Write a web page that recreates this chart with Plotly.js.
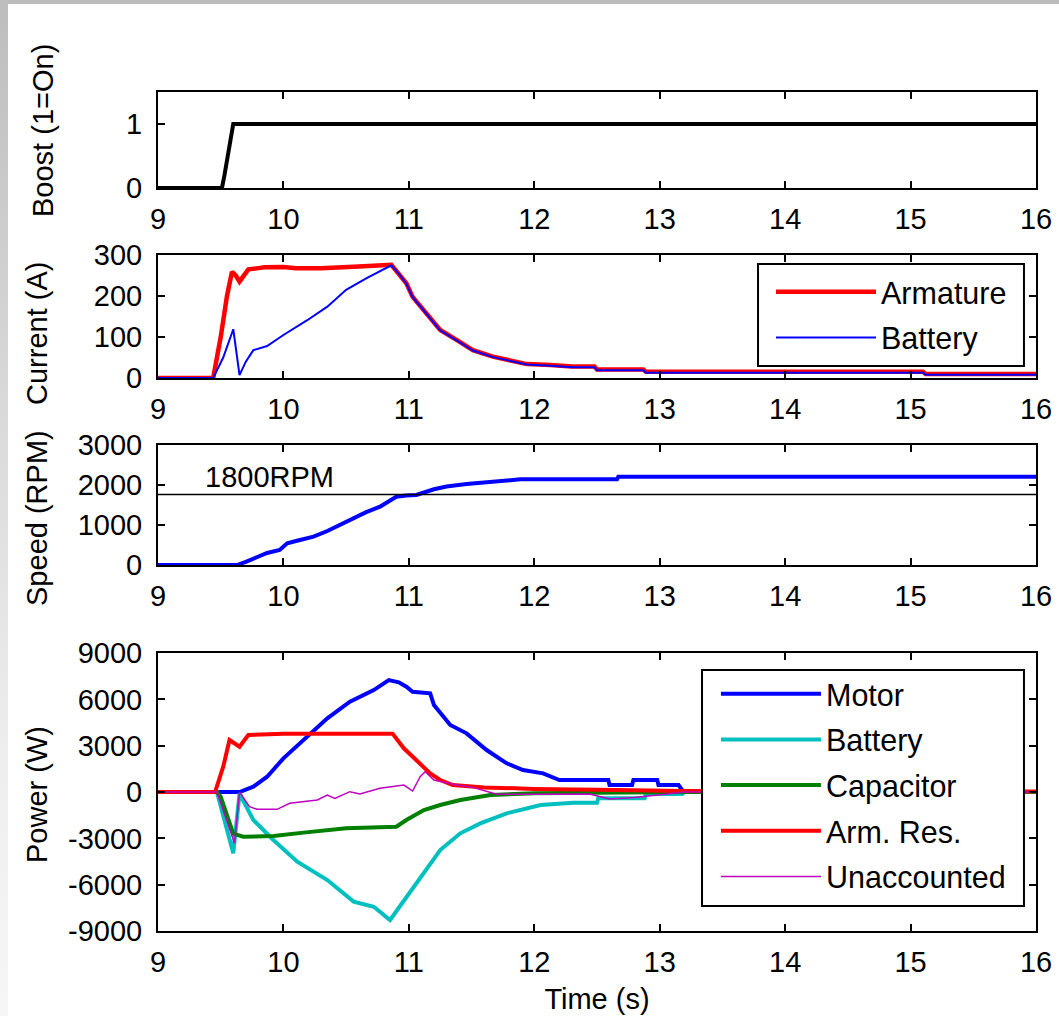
<!DOCTYPE html>
<html>
<head>
<meta charset="utf-8">
<script src="https://cdn.plot.ly/plotly-3.0.1.min.js"></script>
<style>
  html, body { margin: 0; padding: 0; }
  #wrap { position: relative; width: 1059px; height: 1016px; overflow: hidden;
          background: linear-gradient(to bottom, #bdbdbd 0%, #d9d9d9 40%, #eeeeee 75%, #f6f6f6 100%); }
  #chart { position: absolute; left: 8px; top: 4px; width: 1051px; height: 1012px; background: #fff; }
</style>
</head>
<body>
<div id="wrap"><div id="chart"></div></div>
<script>
// ---------------- data ----------------
const boostT = [9, 9.51, 9.53, 9.55, 9.57, 9.59, 9.6, 16];
const boostV = [0, 0, 0.2, 0.45, 0.6, 0.85, 1, 1];

const armCurT = [9, 9.44, 9.5, 9.55, 9.59, 9.62, 9.65, 9.69, 9.72, 9.8, 9.85, 10.0, 10.1, 10.3, 10.55, 10.6, 10.86, 10.92, 10.98, 11.03, 11.14, 11.25, 11.38, 11.51, 11.67, 11.78, 11.94, 12.13, 12.3, 12.48, 12.5, 12.87, 12.89, 15.1, 15.12, 16];
const armCurV = [0, 0, 100, 200, 259, 250, 235, 255, 265, 268, 270, 271, 268, 268, 270, 272, 276, 255, 231, 198, 158, 117, 93, 68, 52, 44, 34, 32, 28, 28, 21, 21, 15, 15, 10, 10];

const batCurT = [9, 9.44, 9.52, 9.6, 9.65, 9.7, 9.76, 9.87, 10.0, 10.19, 10.35, 10.5, 10.66, 10.86, 10.92, 10.98, 11.03, 11.14, 11.25, 11.38, 11.51, 11.67, 11.78, 11.94, 12.13, 12.3, 12.48, 12.5, 12.87, 12.89, 15.1, 15.12, 16];
const batCurV = [0, 0, 50, 119, 7, 40, 68, 78, 105, 141, 174, 215, 243, 275, 254, 230, 197, 157, 116, 92, 67, 51, 43, 33, 30, 26, 26, 19, 19, 13, 13, 8, 8];

const speedT = [9, 9.63, 9.7, 9.79, 9.87, 9.97, 10.03, 10.1, 10.24, 10.35, 10.45, 10.56, 10.66, 10.77, 10.9, 10.98, 11.06, 11.2, 11.3, 11.46, 11.65, 11.89, 12.66, 12.67, 16];
const speedV = [0, 0, 80, 208, 300, 375, 542, 600, 708, 850, 1000, 1192, 1320, 1458, 1708, 1740, 1750, 1892, 1960, 2025, 2083, 2142, 2142, 2208, 2208];

const refT = [9, 16];
const refV = [1760, 1760];

const motorT = [9, 9.65, 9.76, 9.87, 10.0, 10.13, 10.35, 10.53, 10.72, 10.84, 10.92, 10.98, 11.03, 11.17, 11.2, 11.33, 11.46, 11.62, 11.78, 11.91, 12.07, 12.2, 12.59, 12.6, 12.78, 12.79, 12.98, 12.99, 13.15, 13.19, 16];
const motorV = [0, 0, 345, 991, 2180, 3150, 4770, 5850, 6600, 7250, 7100, 6820, 6490, 6390, 5630, 4340, 3800, 2720, 1860, 1425, 1210, 777, 777, 453, 453, 777, 777, 453, 453, 0, 0];

const batPT = [9, 9.47, 9.6, 9.65, 9.76, 9.92, 10.11, 10.35, 10.56, 10.72, 10.85, 10.98, 11.12, 11.25, 11.41, 11.57, 11.78, 12.05, 12.31, 12.5, 12.51, 12.88, 12.89, 13.18, 13.2, 16];
const batPV = [0, 0, -3970, -100, -1813, -3108, -4510, -5700, -7100, -7430, -8290, -6780, -5260, -3755, -2675, -2030, -1380, -842, -700, -700, -410, -410, -130, -130, 0, 0];

const capT = [9, 9.47, 9.5, 9.6, 9.68, 9.92, 10.16, 10.35, 10.5, 10.9, 10.98, 11.12, 11.25, 11.41, 11.65, 12.0, 12.5, 13.2, 16];
const capV = [0, 0, -300, -2700, -2890, -2850, -2630, -2500, -2350, -2245, -1810, -1165, -842, -518, -194, -80, -40, 0, 0];

const armResT = [9, 9.455, 9.52, 9.57, 9.65, 9.72, 10.0, 10.5, 10.87, 10.96, 11.06, 11.17, 11.25, 11.35, 11.6, 12.0, 12.5, 13.2, 16];
const armResV = [0, 0, 1640, 3370, 2930, 3690, 3780, 3750, 3780, 2830, 2070, 1210, 777, 453, 300, 200, 150, 60, 30];

const unaccT = [9, 9.47, 9.61, 9.65, 9.73, 9.79, 9.95, 10.05, 10.27, 10.35, 10.41, 10.53, 10.61, 10.77, 10.96, 11.03, 11.09, 11.13, 11.2, 11.35, 11.51, 11.7, 12.0, 12.44, 12.6, 12.8, 13.2, 16];
const unaccV = [0, 0, -3320, 0, -950, -1120, -1120, -734, -518, -194, -410, 22, -130, 237, 453, 65, 993, 1316, 777, 500, 300, -150, -150, -130, -450, -350, 0, 0];

const xTicks = [9, 10, 11, 12, 13, 14, 15, 16];
const boostTicks = [0, 1];
const currentTicks = [0, 100, 200, 300];
const speedTicks = [0, 1000, 2000, 3000];
const powerTicks = [-9000, -6000, -3000, 0, 3000, 6000, 9000];
const powerTickText = ['-9000', '-6000', '-3000', '0', '3000', '6000', '9000'];

const yTitles = ['Boost (1=On)', 'Current (A)', 'Speed (RPM)', 'Power (W)'];

// ---------------- styling ----------------
const FONT = 'Liberation Sans, Arial, Helvetica, sans-serif';
const FS = 29;
const LFS = 30.5;
const BLUE = '#0000ff', CYAN = '#00bfbf', GREEN = '#008000', RED = '#ff0000', MAGENTA = '#bf00bf';

const traces = [
  {x: boostT, y: boostV, xaxis: 'x', yaxis: 'y', mode: 'lines', line: {color: '#000', width: 4}, showlegend: false},

  {x: armCurT, y: armCurV, xaxis: 'x2', yaxis: 'y2', mode: 'lines', name: 'Armature', legend: 'legend', legendgroup: 'c1', line: {color: RED, width: 4.5}},
  {x: batCurT, y: batCurV, xaxis: 'x2', yaxis: 'y2', mode: 'lines', name: 'Battery', legend: 'legend', legendgroup: 'c2', line: {color: BLUE, width: 2}},

  {x: speedT, y: speedV, xaxis: 'x3', yaxis: 'y3', mode: 'lines', line: {color: BLUE, width: 4}, showlegend: false},
  {x: refT, y: refV, xaxis: 'x3', yaxis: 'y3', mode: 'lines', line: {color: '#000', width: 1.5}, showlegend: false},

  {x: motorT, y: motorV, xaxis: 'x4', yaxis: 'y4', mode: 'lines', name: 'Motor', legend: 'legend2', legendgroup: 'p1', line: {color: BLUE, width: 4}},
  {x: batPT, y: batPV, xaxis: 'x4', yaxis: 'y4', mode: 'lines', name: 'Battery', legend: 'legend2', legendgroup: 'p2', line: {color: CYAN, width: 4}},
  {x: capT, y: capV, xaxis: 'x4', yaxis: 'y4', mode: 'lines', name: 'Capacitor', legend: 'legend2', legendgroup: 'p3', line: {color: GREEN, width: 4}},
  {x: armResT, y: armResV, xaxis: 'x4', yaxis: 'y4', mode: 'lines', name: 'Arm. Res.', legend: 'legend2', legendgroup: 'p4', line: {color: RED, width: 4}},
  {x: unaccT, y: unaccV, xaxis: 'x4', yaxis: 'y4', mode: 'lines', name: 'Unaccounted', legend: 'legend2', legendgroup: 'p5', line: {color: MAGENTA, width: 1.5}}
];

const axBase = {
  showline: true, linecolor: '#000', linewidth: 2, mirror: 'ticks',
  ticks: 'inside', ticklen: 7, tickwidth: 2, tickcolor: '#000',
  showgrid: false, zeroline: false, automargin: false, fixedrange: true,
  tickfont: {family: FONT, size: FS, color: '#000'}
};

function xAx(anchor, extra) {
  return Object.assign({}, axBase, {anchor: anchor, domain: [0, 1], range: [9, 16],
    tickmode: 'array', tickvals: xTicks, ticklabelstandoff: 4}, extra || {});
}
function yAx(anchor, domain, range, vals, text) {
  const a = Object.assign({}, axBase, {anchor: anchor, domain: domain, range: range,
    tickmode: 'array', tickvals: vals, ticklabelstandoff: 8});
  if (text) a.ticktext = text;
  return a;
}

const legendBase = {
  bgcolor: 'rgba(0,0,0,0)', borderwidth: 0,
  font: {family: FONT, size: LFS, color: '#000'},
  xanchor: 'left', yanchor: 'top', itemwidth: 100, traceorder: 'grouped', tracegroupgap: 3,
  itemclick: false, itemdoubleclick: false
};

// legend frames (white boxes with black border)
const shapes = [
  {type: 'rect', xref: 'paper', yref: 'paper', x0: 0.6834, x1: 0.9863, y0: 0.6734, y1: 0.795,
   fillcolor: '#fff', line: {color: '#000', width: 2}, layer: 'above'},
  {type: 'rect', xref: 'paper', yref: 'paper', x0: 0.6196, x1: 0.9863, y0: 0.0298, y1: 0.3111,
   fillcolor: '#fff', line: {color: '#000', width: 2}, layer: 'above'}
];

const titleX = [-0.131, -0.1378, -0.1378, -0.1378];
const titleY = [0.9547, 0.7116, 0.4923, 0.1621];

const annotations = yTitles.map((t, i) => ({
  text: t, xref: 'paper', yref: 'paper', x: titleX[i], y: titleY[i],
  xanchor: 'center', yanchor: 'middle', textangle: -90, showarrow: false,
  font: {family: FONT, size: FS, color: '#000'}
}));
annotations.push({
  text: '1800RPM', xref: 'x3', yref: 'y3', x: 9.36, y: 2200, xanchor: 'left', yanchor: 'middle',
  showarrow: false, font: {family: FONT, size: FS, color: '#000'}
});

const layout = {
  width: 1051, height: 1012,
  margin: {l: 150, r: 23, t: 88, b: 85, pad: 0},
  paper_bgcolor: '#fff', plot_bgcolor: '#fff',
  font: {family: FONT, size: FS, color: '#000'},
  xaxis: xAx('y'),
  xaxis2: xAx('y2'),
  xaxis3: xAx('y3'),
  xaxis4: xAx('y4', {title: {text: 'Time (s)', font: {family: FONT, size: FS, color: '#000'}, standoff: 12}}),
  yaxis: yAx('x', [0.8856, 1.0], [0, 1.5], boostTicks),
  yaxis2: yAx('x2', [0.6591, 0.8057], [0, 300], currentTicks),
  yaxis3: yAx('x3', [0.4362, 0.5793], [0, 3000], speedTicks),
  yaxis4: yAx('x4', [0, 0.3313], [-9000, 9000], powerTicks, powerTickText),
  legend: Object.assign({}, legendBase, {x: 0.6982, y: 0.7932}),
  legend2: Object.assign({}, legendBase, {x: 0.6355, y: 0.3141}),
  shapes: shapes,
  annotations: annotations,
  showlegend: true
};

Plotly.newPlot('chart', traces, layout, {displayModeBar: false, staticPlot: false, responsive: false});
</script>
</body>
</html>
